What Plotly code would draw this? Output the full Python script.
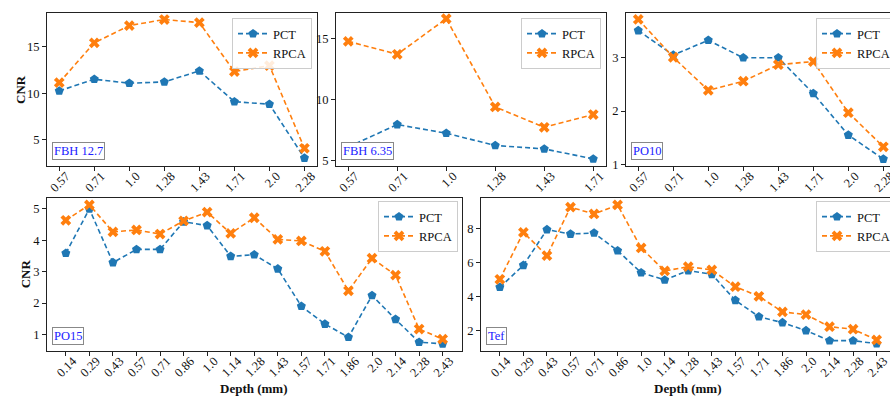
import plotly.graph_objects as go

# ---------------- data ----------------
depth_top = ["0.57", "0.71", "1.0", "1.28", "1.43", "1.71", "2.0", "2.28"]
depth_fbh635 = ["0.57", "0.71", "1.0", "1.28", "1.43", "1.71"]
depth_bottom = ["0.14", "0.29", "0.43", "0.57", "0.71", "0.86", "1.0", "1.14", "1.28",
                "1.43", "1.57", "1.71", "1.86", "2.0", "2.14", "2.28", "2.43"]

fbh127_pct = [10.25, 11.5, 11.07, 11.21, 12.39, 9.1, 8.82, 3.05]
fbh127_rpca = [11.14, 15.4, 17.25, 17.9, 17.57, 12.32, 12.96, 4.1]

fbh635_pct = [6.14, 7.97, 7.26, 6.26, 5.98, 5.16]
fbh635_rpca = [14.78, 13.72, 16.63, 9.41, 7.75, 8.79]

po10_pct = [3.51, 3.05, 3.33, 3.0, 3.0, 2.33, 1.55, 1.1]
po10_rpca = [3.72, 3.01, 2.39, 2.56, 2.87, 2.93, 1.97, 1.33]

po15_pct = [3.59, 5.0, 3.29, 3.71, 3.71, 4.59, 4.47, 3.49, 3.54, 3.09, 1.90, 1.33,
            0.91, 2.24, 1.48, 0.75, 0.70]
po15_rpca = [4.64, 5.13, 4.27, 4.33, 4.20, 4.62, 4.90, 4.22, 4.72, 4.03, 3.98, 3.65,
             2.39, 3.43, 2.89, 1.17, 0.85]

tef_pct = [4.53, 5.82, 7.92, 7.66, 7.72, 6.68, 5.39, 4.96, 5.51, 5.29, 3.76, 2.80,
           2.45, 1.98, 1.39, 1.39, 1.21]
tef_rpca = [5.0, 7.76, 6.39, 9.24, 8.84, 9.37, 6.84, 5.49, 5.74, 5.55, 4.56, 4.0,
            3.08, 2.92, 2.21, 2.06, 1.43]

panel_labels = ["FBH 12.7", "FBH 6.35", "PO10", "PO15", "Tef"]
series_names = ["PCT", "RPCA"]

yticks_1 = [5, 10, 15]
yticks_2 = [5, 10, 15]
yticks_3 = [1, 2, 3]
yticks_4 = [1, 2, 3, 4, 5]
yticks_5 = [2, 4, 6, 8]

# ---------------- styling ----------------
W, H = 890, 396
FONT = "Liberation Serif, Times New Roman, serif"
BLUE = "#1f77b4"
ORANGE = "#ff7f0e"
AX = "#222222"
TXT = "#111111"

def px_x(p):
    return p / W

def px_y(p):
    return 1 - p / H

panels = [
    dict(cats=depth_top, pct=fbh127_pct, rpca=fbh127_rpca, label=panel_labels[0],
         xd=[px_x(47), px_x(316.7)], yd=[px_y(166), px_y(13)],
         xr=[-0.35, 7.35], yr=[2.2, 18.6], yt=yticks_1),
    dict(cats=depth_fbh635, pct=fbh635_pct, rpca=fbh635_rpca, label=panel_labels[1],
         xd=[px_x(336), px_x(605.5)], yd=[px_y(166), px_y(13)],
         xr=[-0.25, 5.25], yr=[4.58, 17.1], yt=yticks_2),
    dict(cats=depth_top, pct=po10_pct, rpca=po10_rpca, label=panel_labels[2],
         xd=[px_x(626), 1.0], yd=[px_y(166), px_y(13)],
         xr=[-0.35, 7.19], yr=[0.97, 3.84], yt=yticks_3),
    dict(cats=depth_bottom, pct=po15_pct, rpca=po15_rpca, label=panel_labels[3],
         xd=[px_x(47), px_x(461.5)], yd=[px_y(351), px_y(198)],
         xr=[-0.8, 16.8], yr=[0.47, 5.35], yt=yticks_4),
    dict(cats=depth_bottom, pct=tef_pct, rpca=tef_rpca, label=panel_labels[4],
         xd=[px_x(481), 1.0], yd=[px_y(351), px_y(198)],
         xr=[-0.8, 16.567], yr=[0.78, 9.78], yt=yticks_5),
]

legend_pos = [
    (px_x(272), px_y(18)),
    (px_x(561), px_y(18)),
    (px_x(856), px_y(18)),
    (px_x(418), px_y(201)),
    (px_x(856), px_y(201)),
]

fig = go.Figure()
layout = dict(
    width=W, height=H,
    margin=dict(l=0, r=0, t=0, b=0, autoexpand=False),
    paper_bgcolor="white", plot_bgcolor="white",
    font=dict(family=FONT, size=12.5, color=TXT),
    showlegend=True,
)
annotations = []

for i, p in enumerate(panels, start=1):
    sfx = "" if i == 1 else str(i)
    xa, ya = "x" + sfx, "y" + sfx
    leg = "legend" + sfx
    fig.add_trace(go.Scatter(
        x=p["cats"], y=p["pct"], name=series_names[0], mode="lines+markers",
        xaxis=xa, yaxis=ya, legend=leg,
        line=dict(color=BLUE, width=1.6, dash="5px,3px"),
        marker=dict(symbol="pentagon", size=9.5, color=BLUE, line=dict(width=0)),
    ))
    fig.add_trace(go.Scatter(
        x=p["cats"], y=p["rpca"], name=series_names[1], mode="lines+markers",
        xaxis=xa, yaxis=ya, legend=leg,
        line=dict(color=ORANGE, width=1.6, dash="5px,3px"),
        marker=dict(symbol="x", size=9.5, color=ORANGE, line=dict(width=0)),
    ))
    layout["xaxis" + sfx] = dict(
        domain=p["xd"], anchor=ya, type="category",
        categoryorder="array", categoryarray=p["cats"],
        range=p["xr"], showgrid=False, zeroline=False,
        showline=True, linecolor=AX, linewidth=1, mirror=True,
        ticks="outside", ticklen=4, tickwidth=1, tickcolor=AX,
        tickangle=-45, ticklabelshift=7, ticklabelstandoff=-7,
        tickfont=dict(family=FONT, size=12.5, color=TXT),
    )
    layout["yaxis" + sfx] = dict(
        domain=p["yd"], anchor=xa, range=p["yr"],
        tickmode="array", tickvals=p["yt"],
        showgrid=False, zeroline=False,
        showline=True, linecolor=AX, linewidth=1, mirror=True,
        ticks="outside", ticklen=4, tickwidth=1, tickcolor=AX,
        tickfont=dict(family=FONT, size=12.5, color=TXT),
    )
    lx, ly = legend_pos[i - 1]
    layout[leg] = dict(
        x=lx, y=ly, xanchor="center", yanchor="top", xref="paper", yref="paper",
        bgcolor="rgba(255,255,255,0.85)", bordercolor="#cccccc", borderwidth=1,
        font=dict(family=FONT, size=12.5, color=TXT),
        itemwidth=30, tracegroupgap=0,
    )
    annotations.append(dict(
        text=p["label"], xref=xa + " domain", yref=ya + " domain",
        x=0, y=0, xanchor="left", yanchor="bottom", xshift=5, yshift=6,
        showarrow=False, font=dict(family=FONT, size=12.5, color="#2020ff"),
        bgcolor="white", bordercolor="#888888", borderwidth=1, borderpad=1,
    ))

# axis titles
for (cx, cy) in [(20.5, 89.5), (25.8, 273.5)]:
    annotations.append(dict(
        text="<b>CNR</b>", xref="paper", yref="paper", x=px_x(cx), y=px_y(cy),
        xanchor="center", yanchor="middle", textangle=-90, showarrow=False,
        font=dict(family=FONT, size=13, color=TXT),
    ))
for cx in [254, 688]:
    annotations.append(dict(
        text="<b>Depth (mm)</b>", xref="paper", yref="paper", x=px_x(cx), y=px_y(388),
        xanchor="center", yanchor="middle", showarrow=False,
        font=dict(family=FONT, size=13, color=TXT),
    ))

layout["annotations"] = annotations
fig.update_layout(**layout)
fig.write_html("out.html")
